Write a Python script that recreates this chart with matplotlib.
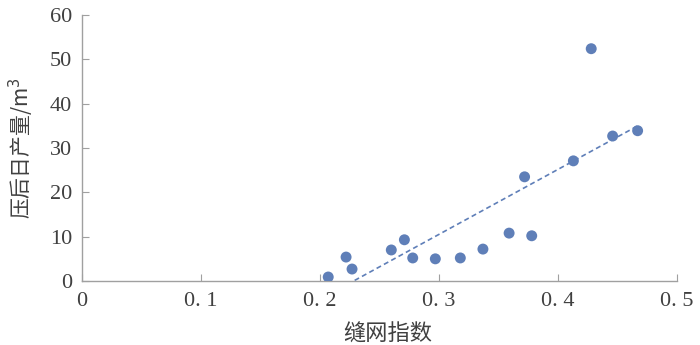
import numpy as np
import matplotlib
matplotlib.use("Agg")
import matplotlib.pyplot as plt

plt.rcParams['font.family'] = ['Liberation Serif', 'Noto Sans CJK SC', 'DejaVu Sans']

x_index = [0.207, 0.222, 0.227, 0.260, 0.271, 0.278, 0.297, 0.318,
           0.337, 0.359, 0.372, 0.378, 0.413, 0.428, 0.446, 0.467]
y_prod = [0.9, 5.4, 2.7, 7.0, 9.3, 5.2, 5.0, 5.2,
          7.2, 10.8, 23.5, 10.2, 27.1, 52.4, 32.7, 33.9]
x_ticks = [0, 0.1, 0.2, 0.3, 0.4, 0.5]
x_ticklabels = ['0', '0. 1', '0. 2', '0. 3', '0. 4', '0. 5']
y_ticks = [0, 10, 20, 30, 40, 50, 60]

color = '#5f7fb8'
fig = plt.figure(figsize=(7, 3.45), dpi=100)
ax = fig.add_axes([0.117, 0.1855, 0.85, 0.771])

ax.scatter(x_index, y_prod, s=62, color=color, zorder=3, edgecolors='none')

k, b = np.polyfit(x_index, y_prod, 1)
xs = np.linspace(min(x_index), max(x_index), 200)
ys = k * xs + b
mask = ys >= 0
ax.plot(xs[mask], ys[mask], linestyle=(0, (3, 2)), color=color, linewidth=1.2, zorder=2)

ax.set_xlim(0, 0.5)
ax.set_ylim(0, 60)
ax.set_xticks(x_ticks)
ax.set_xticklabels(x_ticklabels)
ax.set_yticks(y_ticks)
for s in ['top', 'right']:
    ax.spines[s].set_visible(False)
for s in ['left', 'bottom']:
    ax.spines[s].set_color('#a0a0a0')
    ax.spines[s].set_linewidth(1.0)
ax.tick_params(direction='in', length=5, color='#a0a0a0', labelsize=16, labelcolor='#404040')
ax.tick_params(axis='x', pad=8)
ax.tick_params(axis='y', pad=7)
ax.set_xlabel('缝网指数', fontsize=16, color='#404040',
              family=['Noto Sans CJK SC', 'DejaVu Sans'])
ax.xaxis.set_label_coords(0.514, -0.155)
ax.set_ylabel('压后日产量/m$^3$', fontsize=15, color='#404040', labelpad=10,
              family=['Noto Sans CJK SC', 'DejaVu Sans'])
fig.savefig('out.png', dpi=100)
